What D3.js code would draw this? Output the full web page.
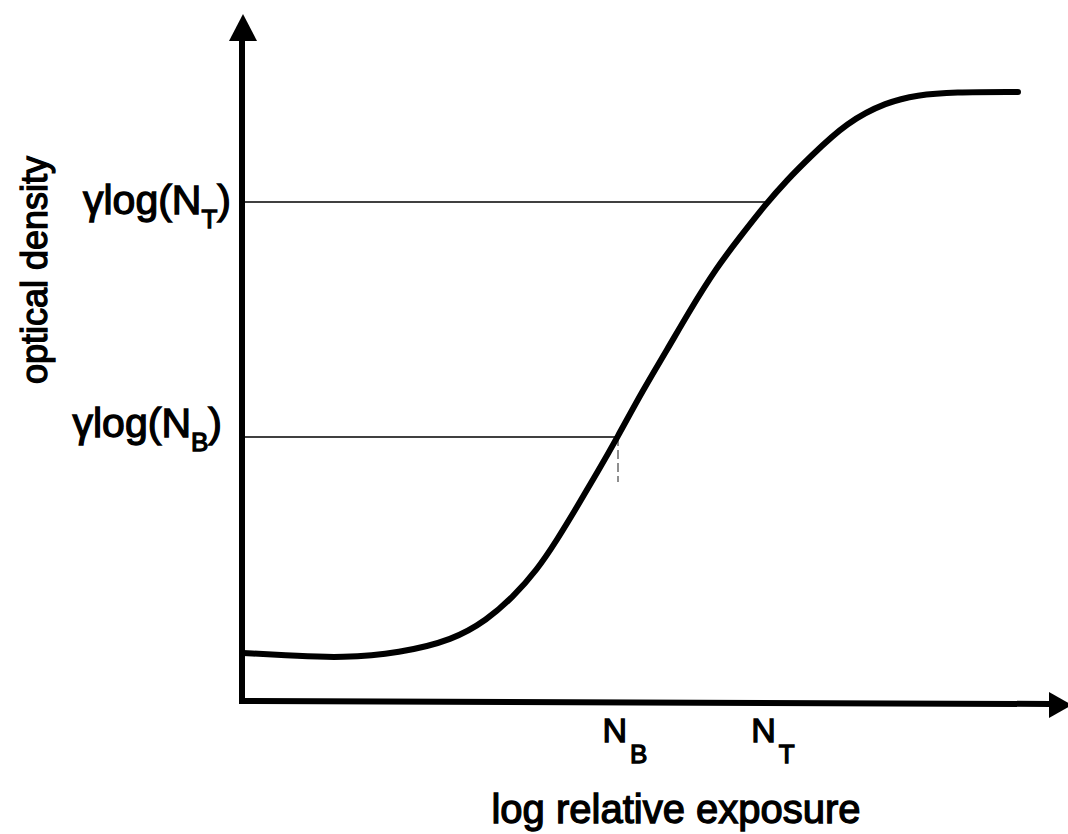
<!DOCTYPE html>
<html>
<head>
<meta charset="utf-8">
<script src="https://cdn.jsdelivr.net/npm/d3@7"></script>
<style>
  body { margin: 0; background: #fff; }
  svg { display: block; }
  text { font-family: "Liberation Sans", Arial, sans-serif; fill: #000; stroke: #000; stroke-width: 1.3px; }
</style>
</head>
<body>
<script>
// characteristic curve (arbitrary units)
var curveX = [0.01, 0.58, 0.98, 1.58, 2.11, 2.45, 2.71, 2.95, 3.15, 3.35, 3.55, 3.75, 4.01, 4.25, 4.48, 4.75, 4.98, 5.23, 5.45, 5.68, 6.05, 6.45, 6.75, 7.11, 7.76];
var curveY = [0.48, 0.45, 0.43, 0.48, 0.61, 0.81, 1.04, 1.31, 1.61, 1.94, 2.28, 2.63, 3.11, 3.51, 3.91, 4.34, 4.64, 4.96, 5.21, 5.44, 5.79, 5.99, 6.06, 6.09, 6.09];

// reference marks
var markNames = ["B", "T"];
var markX = [3.75, 5.23];
var markY = [2.64, 4.99];

var width = 1068, height = 834;
var origin = {x: 242, y: 701};

var svg = d3.select("body")
  .append("svg")
    .attr("width", width)
    .attr("height", height);

var x = d3.scaleLinear().domain([0, 8.26]).range([origin.x, origin.x + 826]);
var y = d3.scaleLinear().domain([0, 6.87]).range([origin.y, origin.y - 687]);

var points = curveX.map(function(d, i) { return [d, curveY[i]]; });

// thin guide lines
svg.selectAll("line.guide")
  .data(markX)
  .enter()
    .append("line")
      .attr("class", "guide")
      .attr("x1", x(0))
      .attr("x2", function(d) { return x(d); })
      .attr("y1", function(d, i) { return y(markY[i]); })
      .attr("y2", function(d, i) { return y(markY[i]); })
      .attr("stroke", "#000")
      .attr("stroke-width", 1.5);

// short dashed drop below N_B
svg.append("line")
  .attr("x1", x(markX[0]) + 1)
  .attr("x2", x(markX[0]) + 1)
  .attr("y1", y(markY[0]))
  .attr("y2", y(markY[0]) + 45)
  .attr("stroke", "#444")
  .attr("stroke-width", 1.2)
  .attr("stroke-dasharray", "9,4");

// axes
svg.append("line")
  .attr("x1", x(0)).attr("y1", y(0) + 2.5)
  .attr("x2", x(0)).attr("y2", y(6.87) + 24)
  .attr("stroke", "#000").attr("stroke-width", 6);
svg.append("line")
  .attr("x1", x(0) - 3).attr("y1", y(0))
  .attr("x2", x(8.26) - 18).attr("y2", y(0) + 3)
  .attr("stroke", "#000").attr("stroke-width", 6);

// arrow heads
var yTip = [x(0) + 1, y(6.87)];
svg.append("path")
  .attr("d", "M" + yTip[0] + "," + yTip[1] + " L" + (yTip[0] + 14) + "," + (yTip[1] + 27) +
             " L" + (yTip[0] - 14) + "," + (yTip[1] + 27) + " Z")
  .attr("fill", "#000");
var xTip = [x(8.26) + 4, y(0) + 4];
svg.append("path")
  .attr("d", "M" + xTip[0] + "," + xTip[1] + " L" + (xTip[0] - 23) + "," + (xTip[1] - 13) +
             " L" + (xTip[0] - 23) + "," + (xTip[1] + 13) + " Z")
  .attr("fill", "#000");

// the curve
svg.append("path")
  .datum(points)
  .attr("fill", "none")
  .attr("stroke", "#000")
  .attr("stroke-width", 6)
  .attr("stroke-linecap", "round")
  .attr("d", d3.line()
    .x(function(d) { return x(d[0]); })
    .y(function(d) { return y(d[1]); })
    .curve(d3.curveBasis));

// y labels: gamma log(N)
var yLabelEnd = [222, 231];
markNames.forEach(function(n, i) {
  var t = svg.append("text")
    .attr("x", yLabelEnd[i])
    .attr("y", i == 0 ? y(markY[i]) : y(markY[i]) + 12)
    .attr("text-anchor", "end")
    .attr("font-size", 41);
  t.append("tspan").text("\u03b3log(N");
  t.append("tspan").attr("font-size", 26).attr("dy", 14).text(n);
  t.append("tspan").attr("dy", -14).text(")");
});

// x labels: N_B, N_T
markNames.forEach(function(n, i) {
  var t = svg.append("text")
    .attr("x", x(markX[i]) + 8)
    .attr("y", 742)
    .attr("text-anchor", "middle")
    .attr("font-size", 34);
  t.append("tspan").text("N");
  t.append("tspan").attr("font-size", 26).attr("dx", 3).attr("dy", 21).text(n);
});

// axis titles
svg.append("text")
  .attr("x", 676)
  .attr("y", 823)
  .attr("text-anchor", "middle")
  .attr("font-size", 40)
  .text("log relative exposure");

svg.append("text")
  .attr("transform", "translate(47,270) rotate(-90)")
  .attr("text-anchor", "middle")
  .attr("font-size", 36)
  .text("optical density");
</script>
</body>
</html>
